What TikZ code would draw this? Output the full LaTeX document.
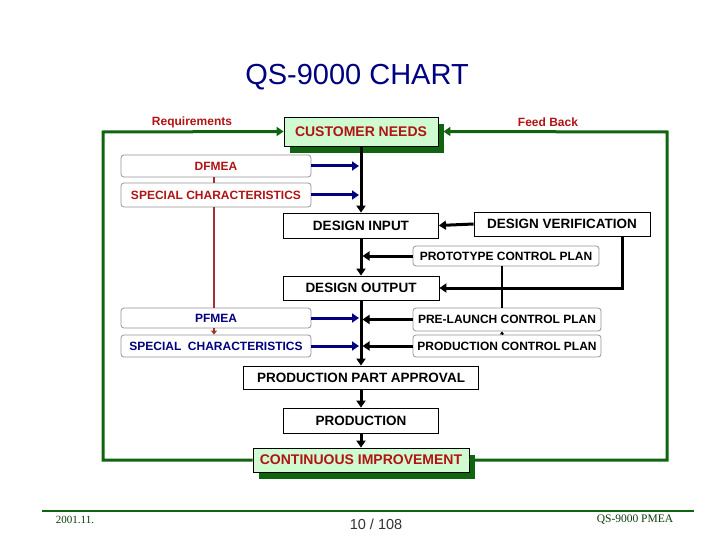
\documentclass[tikz,border=0pt]{standalone}
\usepackage{fontspec}
\setmainfont{Liberation Sans}
\newfontfamily\footfont{Liberation Serif}
\definecolor{qsgreen}{RGB}{16,100,16}
\definecolor{qslight}{RGB}{208,250,208}
\definecolor{qsred}{RGB}{176,20,20}
\definecolor{qsnavy}{RGB}{0,0,128}
\definecolor{qsbrown}{RGB}{160,50,50}
\definecolor{qsgray}{RGB}{150,150,150}
\usetikzlibrary{arrows.meta,positioning,shadows}

\tikzset{
  box/.style={draw,line width=0.8pt,fill=white,inner sep=0pt,font=\fontsize{13.5}{15}\selectfont\bfseries},
  rbox/.style={draw=qsgray,line width=0.8pt,rounded corners=3pt,fill=white,inner sep=0pt,font=\fontsize{12}{14}\selectfont\bfseries},
  gbox/.style={box,fill=qslight,text=qsred,font=\fontsize{14}{16}\selectfont\bfseries,
    drop shadow={shadow xshift=6pt,shadow yshift=-7pt,fill=qsgreen,opacity=1}},
  tip/.style={-{Triangle[length=7pt,width=9pt]}},
  spinearrow/.style={line width=3pt,tip},
  bluearrow/.style={line width=3pt,qsnavy,tip},
  greenline/.style={line width=3pt,qsgreen},
  redline/.style={line width=1.5pt,qsbrown},
  tag/.style={font=\fontsize{12}{13}\selectfont\bfseries,text=qsred},
}

\begin{document}
\begin{tikzpicture}[x=1pt,y=-1pt]
  \useasboundingbox[fill=white] (0,0) rectangle (720,540);

  % title
  \node[text=qsnavy,font=\fontsize{29}{32}\selectfont] (title) at (357,77) {QS-9000 CHART};

  % main column
  \node[gbox,minimum width=154,minimum height=29] (cn) at (361,131.5) {CUSTOMER NEEDS};
  \node[box,minimum width=155,minimum height=25] (di) at (361,225.5) {DESIGN INPUT};
  \node[box,minimum width=156,minimum height=24] (do) at (361,288) {DESIGN OUTPUT};
  \node[box,minimum width=235,minimum height=23] (ppa) at (361,377.5) {PRODUCTION PART APPROVAL};
  \node[box,minimum width=155,minimum height=25] (prod) at (361,420.5) {PRODUCTION};
  \node[gbox,minimum width=216,minimum height=24] (ci) at (361,460) {CONTINUOUS IMPROVEMENT};

  % left side
  \node[rbox,text=qsred,minimum width=190,minimum height=22] (dfmea) at (216,166) {DFMEA};
  \node[rbox,text=qsred,minimum width=190,minimum height=24] (sc1) at (216,195) {SPECIAL CHARACTERISTICS};
  \node[rbox,text=qsnavy,minimum width=190,minimum height=20] (pfmea) at (216,318) {PFMEA};
  \node[rbox,text=qsnavy,minimum width=190,minimum height=22] (sc2) at (216,346) {SPECIAL\ \ CHARACTERISTICS};

  % right side
  \node[box,minimum width=176,minimum height=24] (dv) at (562,224) {DESIGN VERIFICATION};
  \node[rbox,minimum width=186,minimum height=20] (pcp) at (506,256) {PROTOTYPE CONTROL PLAN};
  \node[rbox,minimum width=188,minimum height=23] (plcp) at (507,319.5) {PRE-LAUNCH CONTROL PLAN};
  \node[rbox,minimum width=188,minimum height=22] (prcp) at (507,346) {PRODUCTION CONTROL PLAN};

  % loop
  \coordinate (reqc) at (103,132);
  \coordinate (fbc) at (667,132);
  \draw[greenline,tip] (ci.west) -| (reqc) -- (cn.west);
  \draw[greenline,tip] (ci.east) -| (fbc) -- ([xshift=5pt]cn.east);
  \node[tag] (req) at (192,122) {Requirements};
  \node[tag] (fb) at (548,122) {Feed Back};

  % spine
  \draw[spinearrow] (cn.south) -- (di.north);
  \draw[spinearrow] (di.south) -- (do.north);
  \draw[spinearrow] (do.south) -- (ppa.north);
  \draw[spinearrow] (ppa.south) -- (prod.north);
  \draw[spinearrow] (prod.south) -- (ci.north);

  % inputs
  \draw[bluearrow,shorten >=2pt] (dfmea.east) -- (dfmea.east -| cn.south);
  \draw[bluearrow,shorten >=2pt] (sc1.east) -- (sc1.east -| cn.south);
  \draw[bluearrow,shorten >=2pt] (pfmea.east) -- (pfmea.east -| cn.south);
  \draw[bluearrow,shorten >=2pt] (sc2.east) -- (sc2.east -| cn.south);
  \draw[spinearrow] (dv.west) -- (di.east);
  \draw[spinearrow,shorten >=1.5pt] (pcp.west) -- (pcp.west -| cn.south);
  \draw[spinearrow] ([xshift=60pt]dv.south) |- (do.east);
  \draw[spinearrow,shorten >=1.5pt] (plcp.west) -- (plcp.west -| cn.south);
  \draw[spinearrow,shorten >=1.5pt] (prcp.west) -- (prcp.west -| cn.south);
  \draw[line width=2pt] ([xshift=-4pt]pcp.south) -- ([xshift=-4pt]pcp.south |- plcp.north);
  \draw[line width=1pt,-{Triangle[length=3pt,width=4pt]}] ([xshift=-5pt]prcp.north) -- ([xshift=-5pt]plcp.south);

  % red links
  \draw[redline] ([xshift=-2pt]dfmea.south) -- ([xshift=-2pt]sc1.north);
  \draw[redline] ([xshift=-2pt]sc1.south) -- ([xshift=-2pt]pfmea.north);
  \draw[redline,-{Triangle[length=4pt,width=6pt]}] ([xshift=-2pt]pfmea.south) -- ([xshift=-2pt]sc2.north);

  % footer
  \draw[qsgreen,line width=2pt] (42,511) -- (694,511);
  \node[text=qsgreen!60!black,font=\footfont\fontsize{11}{12}\selectfont] (date) at (75,520) {2001.11.};
  \node[text=black!80,font=\fontsize{14.5}{16}\selectfont] (page) at (376,524) {10 / 108};
  \node[text=qsgreen!60!black,font=\footfont\fontsize{11.5}{12}\selectfont] (foot) at (635,520) {QS-9000 PMEA};
\end{tikzpicture}
\end{document}
